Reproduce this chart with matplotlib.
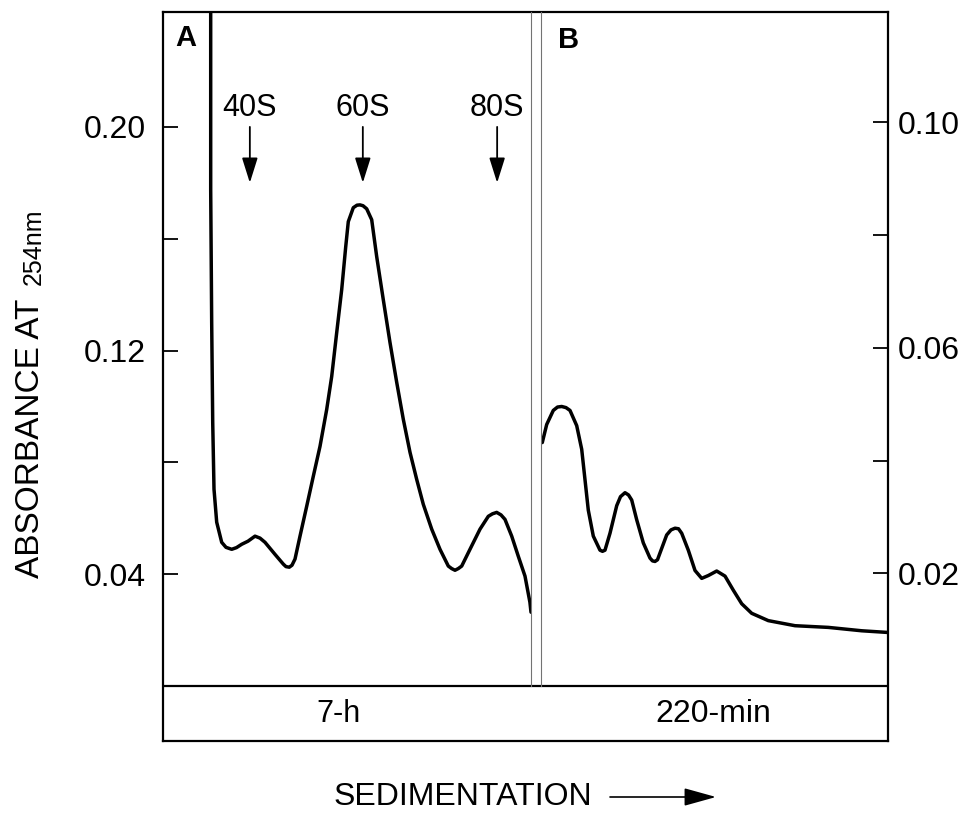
import matplotlib
matplotlib.use("Agg")
import matplotlib.pyplot as plt

plt.rcParams['font.family'] = ['Liberation Sans', 'DejaVu Sans']

# Panel A: 7-h gradient, position as fraction of gradient length, absorbance (left scale)
pos_a = [0.1296, 0.1296, 0.1323, 0.1351, 0.1386, 0.1459, 0.1595, 0.1712, 0.1867, 0.1997,
         0.2139, 0.2310, 0.2500, 0.2636, 0.2772, 0.3043, 0.3269, 0.3342, 0.3432, 0.3505,
         0.3587, 0.3723, 0.3905, 0.4084, 0.4266, 0.4448, 0.4584, 0.4720, 0.4856, 0.4965,
         0.5035, 0.5171, 0.5272, 0.5353, 0.5435, 0.5535, 0.5671, 0.5807, 0.5986, 0.6168,
         0.6351, 0.6530, 0.6712, 0.6894, 0.7073, 0.7302, 0.7527, 0.7753, 0.7845, 0.7935,
         0.8024, 0.8117, 0.8342, 0.8614, 0.8840, 0.8954, 0.9068, 0.9185, 0.9293, 0.9476,
         0.9655, 0.9837, 0.9970, 1.0000]
abs_a = [0.2550, 0.1775, 0.1300, 0.0943, 0.0704, 0.0586, 0.0514, 0.0496, 0.0489, 0.0495,
         0.0507, 0.0518, 0.0536, 0.0529, 0.0514, 0.0471, 0.0436, 0.0427, 0.0425, 0.0432,
         0.0454, 0.0536, 0.0643, 0.0750, 0.0857, 0.0989, 0.1107, 0.1264, 0.1418, 0.1571,
         0.1661, 0.1711, 0.1720, 0.1721, 0.1718, 0.1707, 0.1668, 0.1536, 0.1382, 0.1229,
         0.1086, 0.0954, 0.0836, 0.0739, 0.0650, 0.0561, 0.0489, 0.0429, 0.0420, 0.0414,
         0.0420, 0.0429, 0.0489, 0.0561, 0.0607, 0.0616, 0.0621, 0.0612, 0.0596, 0.0536,
         0.0464, 0.0393, 0.0300, 0.0264]

# Panel B: 220-min gradient (right scale)
pos_b = [0.0037, 0.0164, 0.0354, 0.0476, 0.0597, 0.0720, 0.0836, 0.1029, 0.1173, 0.1268,
         0.1363, 0.1507, 0.1700, 0.1772, 0.1844, 0.1988, 0.2182, 0.2291, 0.2421, 0.2522,
         0.2614, 0.2758, 0.2948, 0.3141, 0.3213, 0.3285, 0.3357, 0.3429, 0.3622, 0.3746,
         0.3862, 0.3963, 0.4055, 0.4245, 0.4438, 0.4631, 0.4821, 0.5063, 0.5303, 0.5542,
         0.5784, 0.6072, 0.6550, 0.7320, 0.8280, 0.9242, 1.0000]
abs_b = [0.0432, 0.0464, 0.0489, 0.0495, 0.0496, 0.0494, 0.0489, 0.0462, 0.0420, 0.0366,
         0.0312, 0.0266, 0.0241, 0.0239, 0.0241, 0.0271, 0.0320, 0.0336, 0.0343, 0.0339,
         0.0330, 0.0295, 0.0254, 0.0227, 0.0222, 0.0221, 0.0224, 0.0236, 0.0268, 0.0277,
         0.0280, 0.0279, 0.0271, 0.0241, 0.0205, 0.0191, 0.0196, 0.0204, 0.0195, 0.0170,
         0.0146, 0.0129, 0.0116, 0.0107, 0.0104, 0.0098, 0.0095]

# sedimentation markers in panel A
marker_names = ['40S', '60S', '80S']
marker_pos = [0.236, 0.543, 0.908]

ticks_a = [0.04, 0.08, 0.12, 0.16, 0.20]
ticklabels_a = ['0.04', '', '0.12', '', '0.20']
ticks_b = [0.02, 0.04, 0.06, 0.08, 0.10]
ticklabels_b = ['0.02', '', '0.06', '', '0.10']

W, H = 975, 814


def fx(px):
    return px / W


def fy(py):
    return 1 - py / H


fig = plt.figure(figsize=(W / 100, H / 100), dpi=100)

# outer frame with the label strip at the bottom
frame = fig.add_axes([fx(163), fy(741), (888 - 163) / W, (741 - 12) / H])
frame.set_xlim(0, 1)
frame.set_ylim(0, 1)
frame.set_xticks([])
frame.set_yticks([])
for s in frame.spines.values():
    s.set_linewidth(1.6)
strip_top = (741 - 686) / (741 - 12)
frame.axhline(strip_top, color='k', lw=1.6)
frame.text((338 - 163) / 725, strip_top / 2, '7-h', fontsize=22,
           ha='center', va='center')
frame.text((713 - 163) / 725, strip_top / 2, '220-min', fontsize=23,
           ha='center', va='center')

tick_kw = dict(direction='in', length=11, width=1.3, labelsize=23)
line_kw = dict(color='k', lw=2.5, solid_joinstyle='round', solid_capstyle='round')
marker_arrow = dict(arrowstyle='-|>,head_length=0.7,head_width=0.22', color='k',
                    lw=1.3, mutation_scale=22, shrinkA=0, shrinkB=0)

ax_a = fig.add_axes([fx(163), fy(686), (531 - 163) / W, (686 - 12) / H])
ax_a.patch.set_alpha(0)
ax_a.plot(pos_a, abs_a, **line_kw)
ax_a.set_xlim(0, 1)
ax_a.set_ylim(0, 0.2411)
ax_a.set_xticks([])
ax_a.set_yticks(ticks_a)
ax_a.set_yticklabels(ticklabels_a)
ax_a.tick_params(axis='y', pad=12, **tick_kw)
for side in ['top', 'bottom', 'left']:
    ax_a.spines[side].set_visible(False)
ax_a.spines['right'].set_color('0.45')
ax_a.spines['right'].set_linewidth(0.8)
ax_a.text(0.062, 0.961, 'A', transform=ax_a.transAxes, fontsize=21,
          fontweight='bold', ha='center', va='center')
for name, p in zip(marker_names, marker_pos):
    ax_a.annotate('', xy=(p, 0.180), xytext=(p, 0.200), arrowprops=marker_arrow)
    ax_a.text(p, 0.2068, name, fontsize=22, ha='center', va='center')

ax_b = fig.add_axes([fx(541), fy(686), (888 - 541) / W, (686 - 12) / H])
ax_b.patch.set_alpha(0)
ax_b.plot(pos_b, abs_b, **line_kw)
ax_b.set_xlim(0, 1)
ax_b.set_ylim(0, 0.1196)
ax_b.set_xticks([])
ax_b.yaxis.tick_right()
ax_b.set_yticks(ticks_b)
ax_b.set_yticklabels(ticklabels_b)
ax_b.tick_params(axis='y', pad=7, **tick_kw)
for side in ['top', 'bottom', 'right']:
    ax_b.spines[side].set_visible(False)
ax_b.spines['left'].set_color('0.45')
ax_b.spines['left'].set_linewidth(0.8)
ax_b.text(0.078, 0.958, 'B', transform=ax_b.transAxes, fontsize=21,
          fontweight='bold', ha='center', va='center')

# y-axis title, with the wavelength in smaller type
fig.text(fx(46), fy(578), 'ABSORBANCE AT', rotation=90, fontsize=24,
         ha='right', va='bottom')
fig.text(fx(46), fy(285), '254nm', rotation=90, fontsize=18,
         ha='right', va='bottom')

# x-axis title with direction arrow
fig.text(fx(463), fy(797), 'SEDIMENTATION', fontsize=23, ha='center', va='center')
frame.annotate('', xy=(fx(716), fy(797)), xytext=(fx(610), fy(797)),
               xycoords='figure fraction', textcoords='figure fraction',
               arrowprops=dict(arrowstyle='-|>,head_length=0.9,head_width=0.25',
                               color='k', lw=1.2, mutation_scale=22,
                               shrinkA=0, shrinkB=0))

fig.savefig('out.png', dpi=100)
